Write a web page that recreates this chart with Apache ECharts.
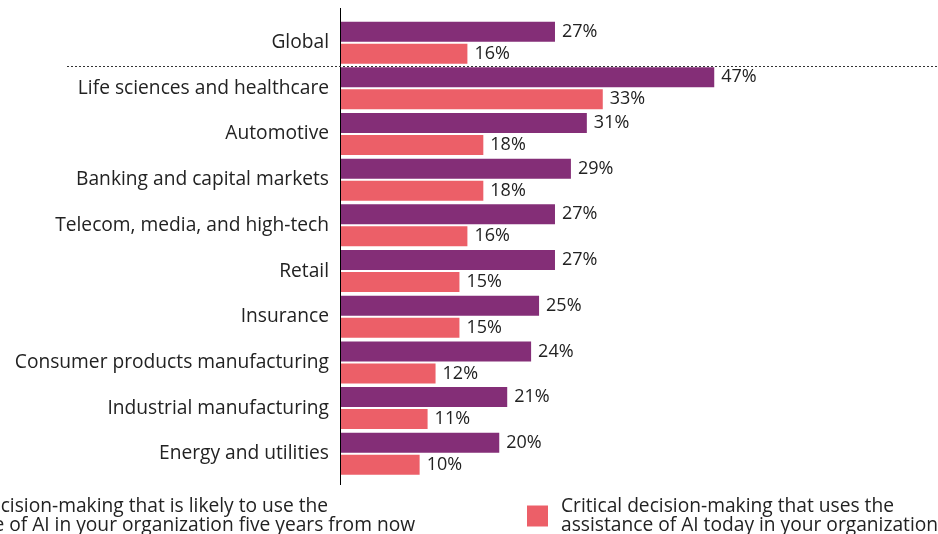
<!DOCTYPE html>
<html>
<head>
<meta charset="utf-8">
<script src="https://cdn.jsdelivr.net/npm/echarts@6/dist/echarts.min.js"></script>
<style>
html,body{margin:0;padding:0;background:#fff;}
#chart{width:938px;height:534px;}
</style>
</head>
<body>
<div id="chart"></div>
<script>
const categories = [
  "Global",
  "Life sciences and healthcare",
  "Automotive",
  "Banking and capital markets",
  "Telecom, media, and high-tech",
  "Retail",
  "Insurance",
  "Consumer products manufacturing",
  "Industrial manufacturing",
  "Energy and utilities"
];
const fiveYears = [27, 47, 31, 29, 27, 27, 25, 24, 21, 20];
const today = [16, 33, 18, 18, 16, 15, 15, 12, 11, 10];
const seriesNames = [
  "Critical decision-making that is likely to use the\nassistance of AI in your organization five years from now",
  "Critical decision-making that uses the\nassistance of AI today in your organization"
];

const FONT = "Open Sans";
const TEXT = "#222222";
const PURPLE = "#842E77";
const RED = "#EC5F68";

const chart = echarts.init(document.getElementById('chart'), null, {renderer: 'canvas'});
const gridLeft = 340, gridTop = 19.8, gridHeight = 456.8, gridWidth = 597.2;

const labelCfg = {
  show: true, position: 'right', distance: 7,
  formatter: p => p.value + '%',
  fontFamily: FONT, fontSize: 18, color: TEXT
};
const legendText = {fontFamily: FONT, fontSize: 19.2, color: TEXT, lineHeight: 19, padding: [0, 0, 0, 8]};

chart.setOption({
  animation: false,
  backgroundColor: '#ffffff',
  grid: {left: gridLeft, top: gridTop, width: gridWidth, height: gridHeight, containLabel: false},
  xAxis: {type: 'value', min: 0, max: 75, show: false},
  yAxis: {
    type: 'category', data: categories, inverse: true,
    axisLine: {show: false}, axisTick: {show: false},
    axisLabel: {fontFamily: FONT, fontSize: 19.2, color: TEXT, margin: 11}
  },
  legend: [
    {
      data: [seriesNames[0]], left: -122, top: 497, padding: 0,
      itemWidth: 21, itemHeight: 21, icon: 'rect', textStyle: legendText
    },
    {
      data: [seriesNames[1]], left: 527, top: 497, padding: 0,
      itemWidth: 21, itemHeight: 21, icon: 'rect', textStyle: legendText
    }
  ],
  series: [
    {
      name: seriesNames[0], type: 'bar', data: fiveYears,
      barWidth: 20, barGap: '10%',
      itemStyle: {color: PURPLE}, label: labelCfg
    },
    {
      name: seriesNames[1], type: 'bar', data: today,
      barWidth: 20,
      itemStyle: {color: RED}, label: labelCfg
    }
  ],
  graphic: [
    {type: 'line', shape: {x1: gridLeft + 0.5, y1: 8, x2: gridLeft + 0.5, y2: 485}, style: {stroke: '#000', lineWidth: 1}, z: 100},
    {type: 'line', shape: {x1: 67, y1: 66.5, x2: 938, y2: 66.5}, style: {stroke: '#333', lineWidth: 1, lineDash: [2, 2]}, z: 100}
  ]
});
</script>
</body>
</html>
